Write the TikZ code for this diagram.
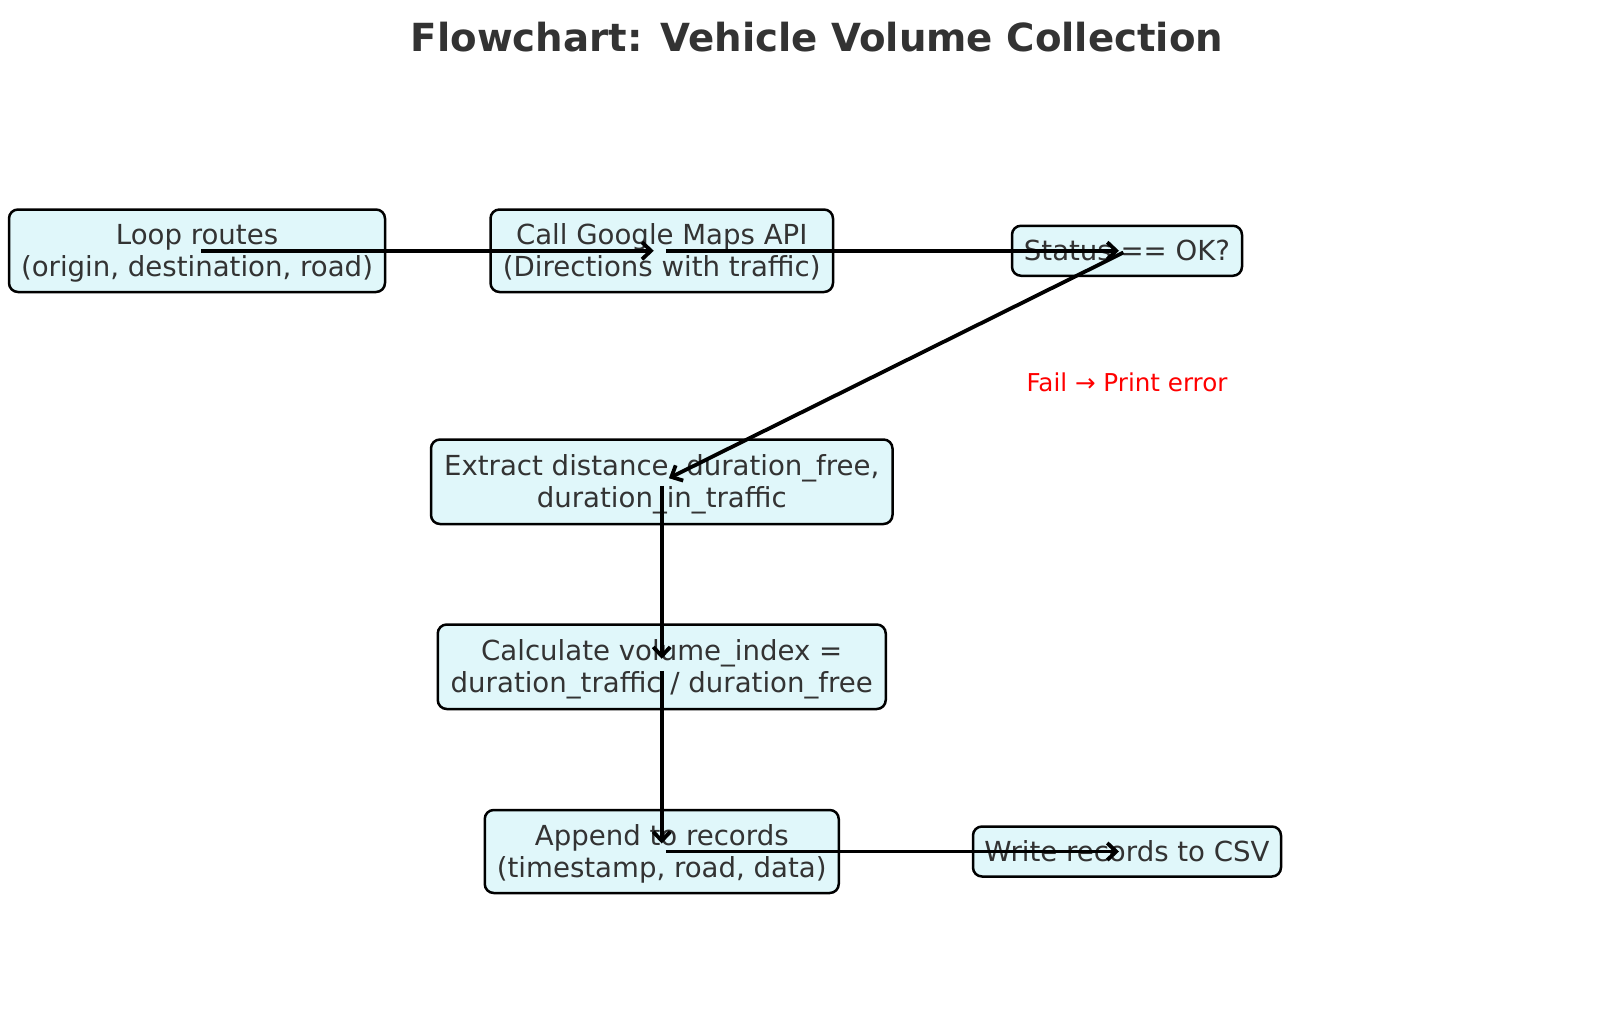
\documentclass[tikz,border=0pt]{standalone}
\usepackage{fontspec}
\setmainfont{DejaVu Sans}
\usetikzlibrary{arrows.meta}
\definecolor{boxfill}{HTML}{E0F7FA}
\definecolor{txt}{HTML}{333333}
\definecolor{failred}{HTML}{FF0000}
\begin{document}
\begin{tikzpicture}[x=1pt,y=-1pt,
  box/.style={draw=black, line width=2.5pt, fill=boxfill, rounded corners=9pt, inner sep=0pt, align=center, text=txt, font=\fontsize{27.6}{32.5}\selectfont},
  twoline/.style={text height=57pt, text depth=5pt},
  arr/.style={line width=3.8pt, -{Straight Barb[length=9pt,width=17pt]}, shorten <=4pt, shorten >=8pt}]
\useasboundingbox (0,0) rectangle (1611,1010);
\node[font=\bfseries\fontsize{38.7}{46}\selectfont, text=txt] (title) at (817,37.5) {Flowchart: Vehicle Volume Collection};
\node[box, twoline, minimum width=376pt, minimum height=82.5pt] (loop) at (197,250.75) {Loop routes\\(origin, destination, road)};
\node[box, twoline, minimum width=342.5pt, minimum height=82.5pt] (call) at (661.75,250.75) {Call Google Maps API\\(Directions with traffic)};
\node[box, minimum width=230pt, minimum height=50pt] (status) at (1127,250.75) {Status == OK?};
\node[box, twoline, minimum width=461.5pt, minimum height=84.5pt] (extract) at (661.75,481.75) {Extract distance, duration\_free,\\duration\_in\_traffic};
\node[box, twoline, minimum width=448pt, minimum height=84.5pt] (calc) at (661.75,666.75) {Calculate volume\_index =\\duration\_traffic / duration\_free};
\node[box, twoline, minimum width=354pt, minimum height=83pt] (append) at (661.75,851.5) {Append to records\\(timestamp, road, data)};
\node[box, minimum width=308pt, minimum height=50pt] (write) at (1127,851.5) {Write records to CSV};
\node[font=\fontsize{24.6}{28}\selectfont, text=failred] (fail) at (1127,382) {Fail → Print error};
\draw[arr] (loop.center) -- (call.center);
\draw[arr] (call.center) -- (status.center);
\draw[arr] (status.center) -- (extract.center);
\draw[arr] (extract.center) -- (calc.center);
\draw[arr] (calc.center) -- (append.center);
\draw[arr] (append.center) -- (write.center);
\end{tikzpicture}
\end{document}
